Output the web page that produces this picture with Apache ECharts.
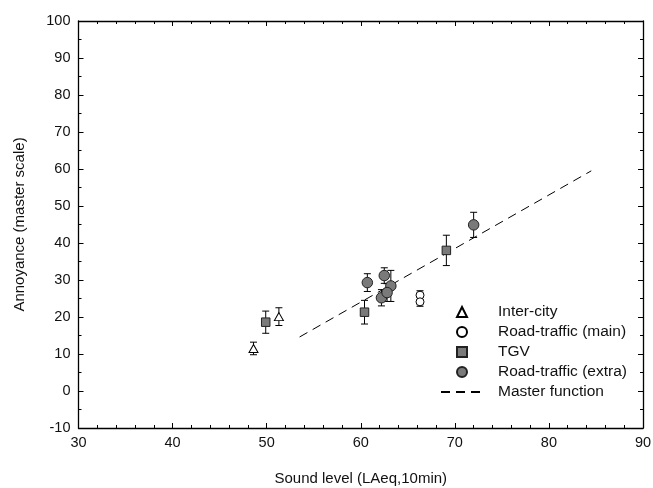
<!DOCTYPE html>
<html>
<head>
<meta charset="utf-8">
<script src="https://cdn.jsdelivr.net/npm/echarts@6/dist/echarts.min.js"></script>
<style>
  html, body { margin: 0; padding: 0; background: #fff; }
  #chart { width: 653px; height: 488px; }
</style>
</head>
<body>
<div id="chart"></div>
<script>
// Points: [sound level, annoyance, half-width of error bar]
const interCity = [[48.6, 11.5, 1.7], [51.3, 20.1, 2.4]];
const roadMain = [[66.3, 25.9, 1.2], [66.3, 24.1, 1.2]];
const tgv = [[49.9, 18.6, 3.0], [60.4, 21.3, 3.2], [69.1, 38.0, 4.1]];
const roadExtra = [[60.7, 29.3, 2.4], [62.5, 31.2, 2.1], [63.2, 28.4, 4.2], [62.2, 25.2, 2.2], [62.8, 26.6, 2.4], [72.0, 44.9, 3.4]];
const masterFunction = [[53.5, 14.6], [84.5, 59.5]];

const xTicks = { min: 30, max: 90, step: 10 };
const yTicks = { min: -10, max: 100, step: 10 };

const FONT = "'Liberation Sans', Arial, sans-serif";
const GRAY = '#7a7a7a';

function errorBars(params, api) {
  const x = api.value(0), y = api.value(1), e = api.value(2);
  const top = api.coord([x, y + e]);
  const bot = api.coord([x, y - e]);
  const hw = 3.5;
  const st = { stroke: '#000', lineWidth: 1 };
  return {
    type: 'group',
    children: [
      { type: 'line', shape: { x1: top[0], y1: top[1], x2: bot[0], y2: bot[1] }, style: st },
      { type: 'line', shape: { x1: top[0] - hw, y1: top[1], x2: top[0] + hw, y2: top[1] }, style: st },
      { type: 'line', shape: { x1: bot[0] - hw, y1: bot[1], x2: bot[0] + hw, y2: bot[1] }, style: st }
    ]
  };
}

function errSeries(data) {
  return {
    type: 'custom', renderItem: errorBars, data: data, z: 1,
    encode: { x: 0, y: 1 }, silent: true
  };
}

function axisCommon(showLabels, margin) {
  return {
    axisLine: { onZero: false, lineStyle: { color: '#000', width: 1.3 } },
    axisTick: { inside: true, length: 5, lineStyle: { color: '#000', width: 1 } },
    splitLine: { show: false },
    axisLabel: { show: showLabels, color: '#111', fontSize: 14.5, fontFamily: FONT, margin: margin }
  };
}

const legendText = { fontSize: 15.5, fontFamily: FONT, color: '#111', lineHeight: 16 };

const chart = echarts.init(document.getElementById('chart'), null, { renderer: 'canvas' });

chart.setOption({
  animation: false,
  backgroundColor: '#fff',
  grid: { left: 78.5, right: 10, top: 21, bottom: 60, outerBoundsMode: 'none', containLabel: false },
  xAxis: [
    Object.assign(axisCommon(true, 7), {
      type: 'value', min: xTicks.min, max: xTicks.max, interval: xTicks.step, position: 'bottom',
      minorTick: { show: true, splitNumber: 5, length: 3, lineStyle: { color: '#000' } },
      name: 'Sound level (LAeq,10min)', nameLocation: 'middle', nameGap: 43,
      nameTextStyle: { fontSize: 15, fontFamily: FONT, color: '#111' }
    }),
    Object.assign(axisCommon(false, 8), {
      type: 'value', min: xTicks.min, max: xTicks.max, interval: xTicks.step, position: 'top',
      minorTick: { show: true, splitNumber: 5, length: 3, lineStyle: { color: '#000' } }
    })
  ],
  yAxis: [
    Object.assign(axisCommon(true, 8), {
      type: 'value', min: yTicks.min, max: yTicks.max, interval: yTicks.step, position: 'left',
      minorTick: { show: true, splitNumber: 2, length: 3, lineStyle: { color: '#000' } },
      name: 'Annoyance (master scale)', nameLocation: 'middle', nameGap: 51,
      nameTextStyle: { fontSize: 15, fontFamily: FONT, color: '#111' }
    }),
    Object.assign(axisCommon(false, 8), {
      type: 'value', min: yTicks.min, max: yTicks.max, interval: yTicks.step, position: 'right',
      minorTick: { show: true, splitNumber: 2, length: 3, lineStyle: { color: '#000' } }
    })
  ],
  legend: [
    {
      // marker entries
      orient: 'vertical', left: 451, top: 299,
      itemWidth: 10, itemHeight: 10, itemGap: 4,
      textStyle: Object.assign({ padding: [0, 0, 0, 26] }, legendText),
      data: ['Inter-city', 'Road-traffic (main)', 'TGV', 'Road-traffic (extra)']
    },
    {
      // dashed fit line entry
      orient: 'vertical', left: 435, top: 379,
      itemWidth: 42, itemHeight: 10,
      textStyle: Object.assign({ padding: [0, 0, 0, 10] }, legendText),
      data: [{ name: 'Master function', itemStyle: { opacity: 0 } }]
    }
  ],
  series: [
    {
      name: 'Master function', type: 'line', data: masterFunction, symbol: 'none', showSymbol: false, z: 2,
      lineStyle: { color: '#000', width: 1, type: [9, 6] }, itemStyle: { color: '#000' }
    },
    errSeries(interCity),
    errSeries(roadMain),
    errSeries(tgv),
    errSeries(roadExtra),
    {
      name: 'Inter-city', type: 'scatter', data: interCity, symbol: 'triangle', symbolSize: [9, 8], z: 3,
      itemStyle: { color: '#fff', borderColor: '#000', borderWidth: 1, opacity: 1 }
    },
    {
      name: 'Road-traffic (main)', type: 'scatter', data: roadMain, symbol: 'circle', symbolSize: 8, z: 3,
      itemStyle: { color: '#fff', borderColor: '#000', borderWidth: 1, opacity: 1 }
    },
    {
      name: 'TGV', type: 'scatter', data: tgv, symbol: 'rect', symbolSize: 8.5, z: 3,
      itemStyle: { color: GRAY, borderColor: '#222', borderWidth: 1, opacity: 1 }
    },
    {
      name: 'Road-traffic (extra)', type: 'scatter', data: roadExtra, symbol: 'circle', symbolSize: 10.5, z: 3,
      itemStyle: { color: GRAY, borderColor: '#222', borderWidth: 1, opacity: 1 }
    }
  ]
});
</script>
</body>
</html>
